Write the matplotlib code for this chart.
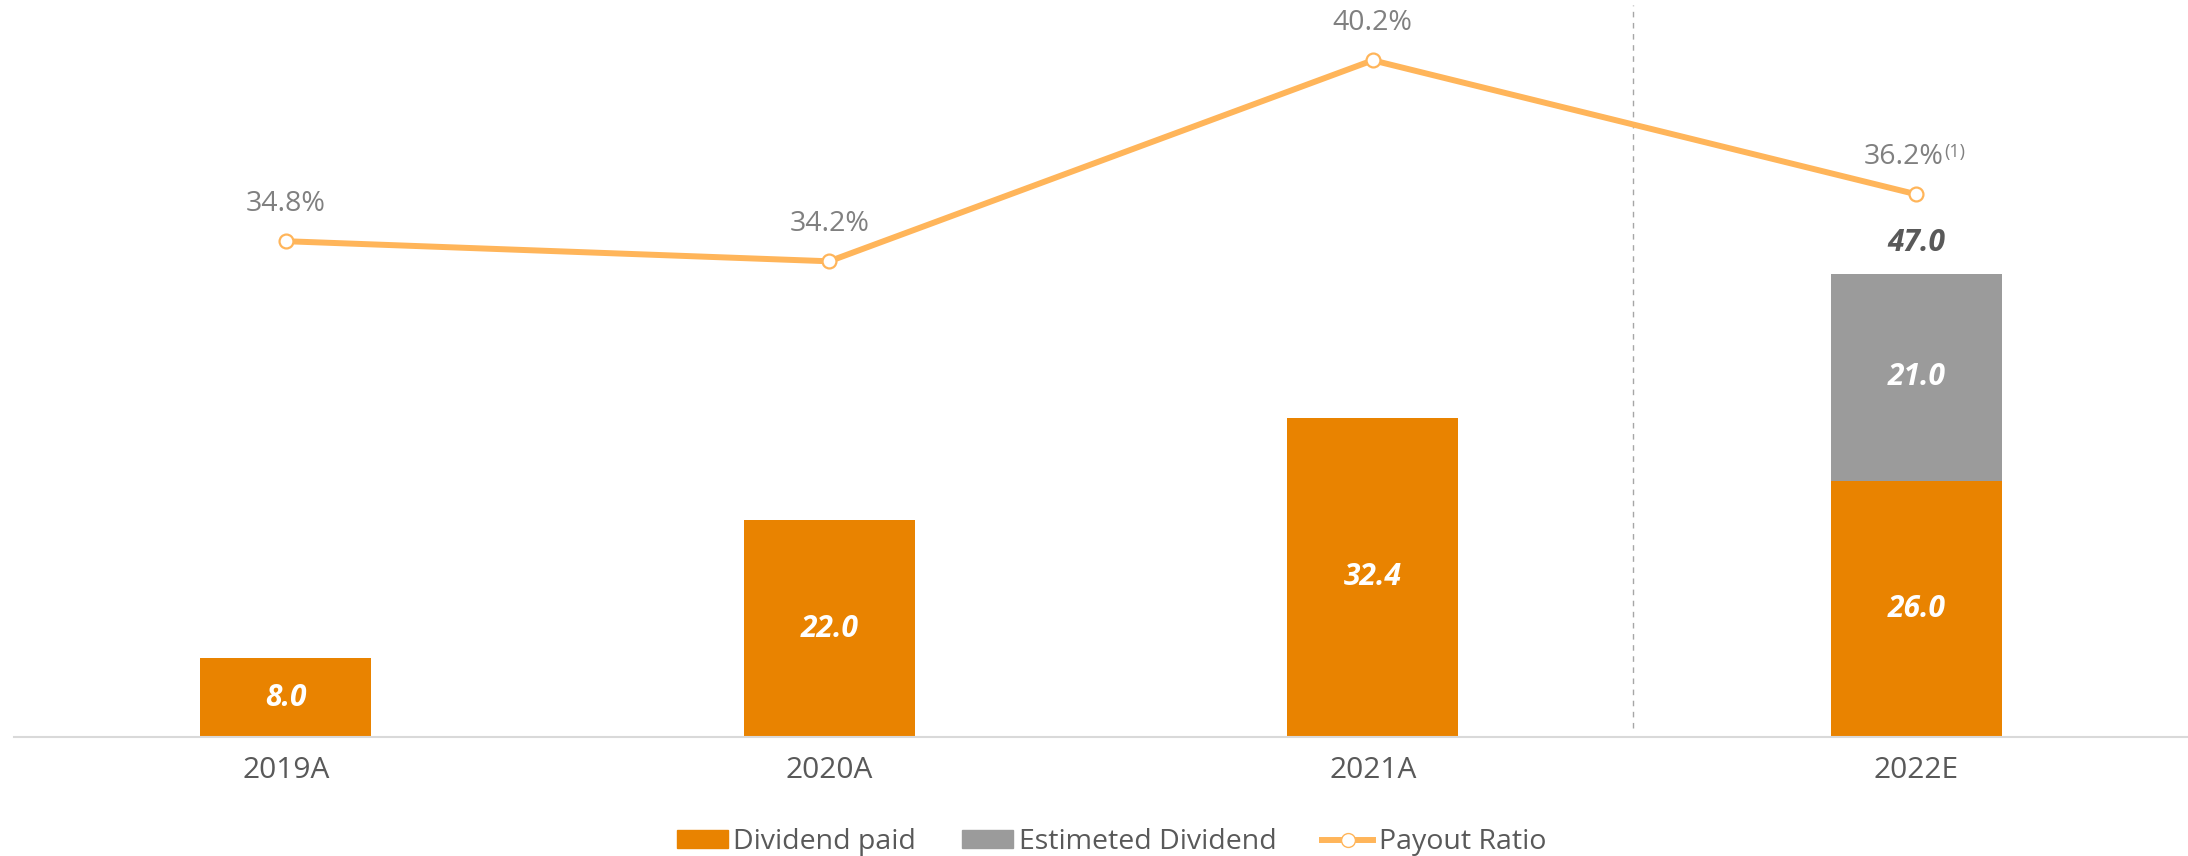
import matplotlib
matplotlib.use("Agg")
import matplotlib.pyplot as plt
from matplotlib.lines import Line2D
from matplotlib.patches import Patch

plt.rcParams['font.family'] = ['Open Sans', 'DejaVu Sans']

years = ['2019A', '2020A', '2021A', '2022E']
dividend_paid = [8.0, 22.0, 32.4, 26.0]
estimated_dividend = [0, 0, 0, 21.0]
payout_ratio = [34.8, 34.2, 40.2, 36.2]
payout_labels = ['34.8%', '34.2%', '40.2%', '36.2%']

ORANGE = '#E98300'
GREY = '#9B9B9B'
LINE = '#FFB55A'

fig = plt.figure(figsize=(21.88, 8.56), dpi=100)
ax = fig.add_axes([14 / 2188, 119 / 856, 1 - 14 / 2188, 737 / 856])
x = list(range(len(years)))

ax.bar(x, dividend_paid, width=0.315, color=ORANGE, zorder=2)
ax.bar(x, estimated_dividend, width=0.315, bottom=dividend_paid, color=GREY, zorder=2)

for i in x:
    ax.text(i, dividend_paid[i] / 2, "%.1f" % dividend_paid[i], ha='center', va='center',
            color='white', fontsize=21.5, fontweight='bold', fontstyle='italic', zorder=3)
    if estimated_dividend[i] > 0:
        ax.text(i, dividend_paid[i] + estimated_dividend[i] / 2, "%.1f" % estimated_dividend[i],
                ha='center', va='center', color='white', fontsize=21.5,
                fontweight='bold', fontstyle='italic', zorder=3)
        total = dividend_paid[i] + estimated_dividend[i]
        ax.annotate("%.1f" % total, (i, total), xytext=(0, 22), textcoords='offset points',
                    ha='center', va='center', color='#595959', fontsize=21.5,
                    fontweight='bold', fontstyle='italic')

ax.set_xlim(-0.5, 3.5)
ax.set_ylim(0, 74.75)
ax.set_xticks(x)
ax.set_xticklabels(years, fontsize=21.5, color='#595959')
ax.tick_params(axis='x', length=0, pad=14)
ax.set_yticks([])
for s in ['top', 'right', 'left']:
    ax.spines[s].set_visible(False)
ax.spines['bottom'].set_color('#D9D9D9')
ax.spines['bottom'].set_linewidth(1.5)

# forecast separator
ax.plot([2.479, 2.479], [0.9, 74.2], ls=(0, (4, 4)), color='#A6A6A6', lw=1.0, zorder=1)

ax2 = ax.twinx()
ax2.set_ylim(20, 42)
ax2.axis('off')
ax2.plot(x, payout_ratio, color=LINE, lw=4.3, marker='o', markersize=10,
         markerfacecolor='white', markeredgecolor=LINE, markeredgewidth=1.6, zorder=4)

for i in x:
    if i == 3:
        ax2.annotate(payout_labels[i], (i, payout_ratio[i]), xytext=(20, 27),
                     textcoords='offset points', ha='right', va='center',
                     color='#808080', fontsize=20.5)
        ax2.annotate('(1)', (i, payout_ratio[i]), xytext=(20.5, 30.5),
                     textcoords='offset points', ha='left', va='center',
                     color='#808080', fontsize=13)
    else:
        ax2.annotate(payout_labels[i], (i, payout_ratio[i]), xytext=(0, 27),
                     textcoords='offset points', ha='center', va='center',
                     color='#808080', fontsize=20.5)

handles = [Patch(color=ORANGE, label='Dividend paid'),
           Patch(color=GREY, label='Estimeted Dividend'),
           Line2D([], [], color=LINE, lw=4.3, marker='o', markersize=10,
                  markerfacecolor='white', markeredgecolor=LINE, label='Payout Ratio')]
fig.legend(handles=handles, loc='center', bbox_to_anchor=(0.508, 0.016), ncol=3,
           frameon=False, fontsize=20.5, labelcolor='#595959', handlelength=1.8,
           handleheight=0.6, handletextpad=0.2, columnspacing=1.6)

fig.savefig('out.png', dpi=100)
